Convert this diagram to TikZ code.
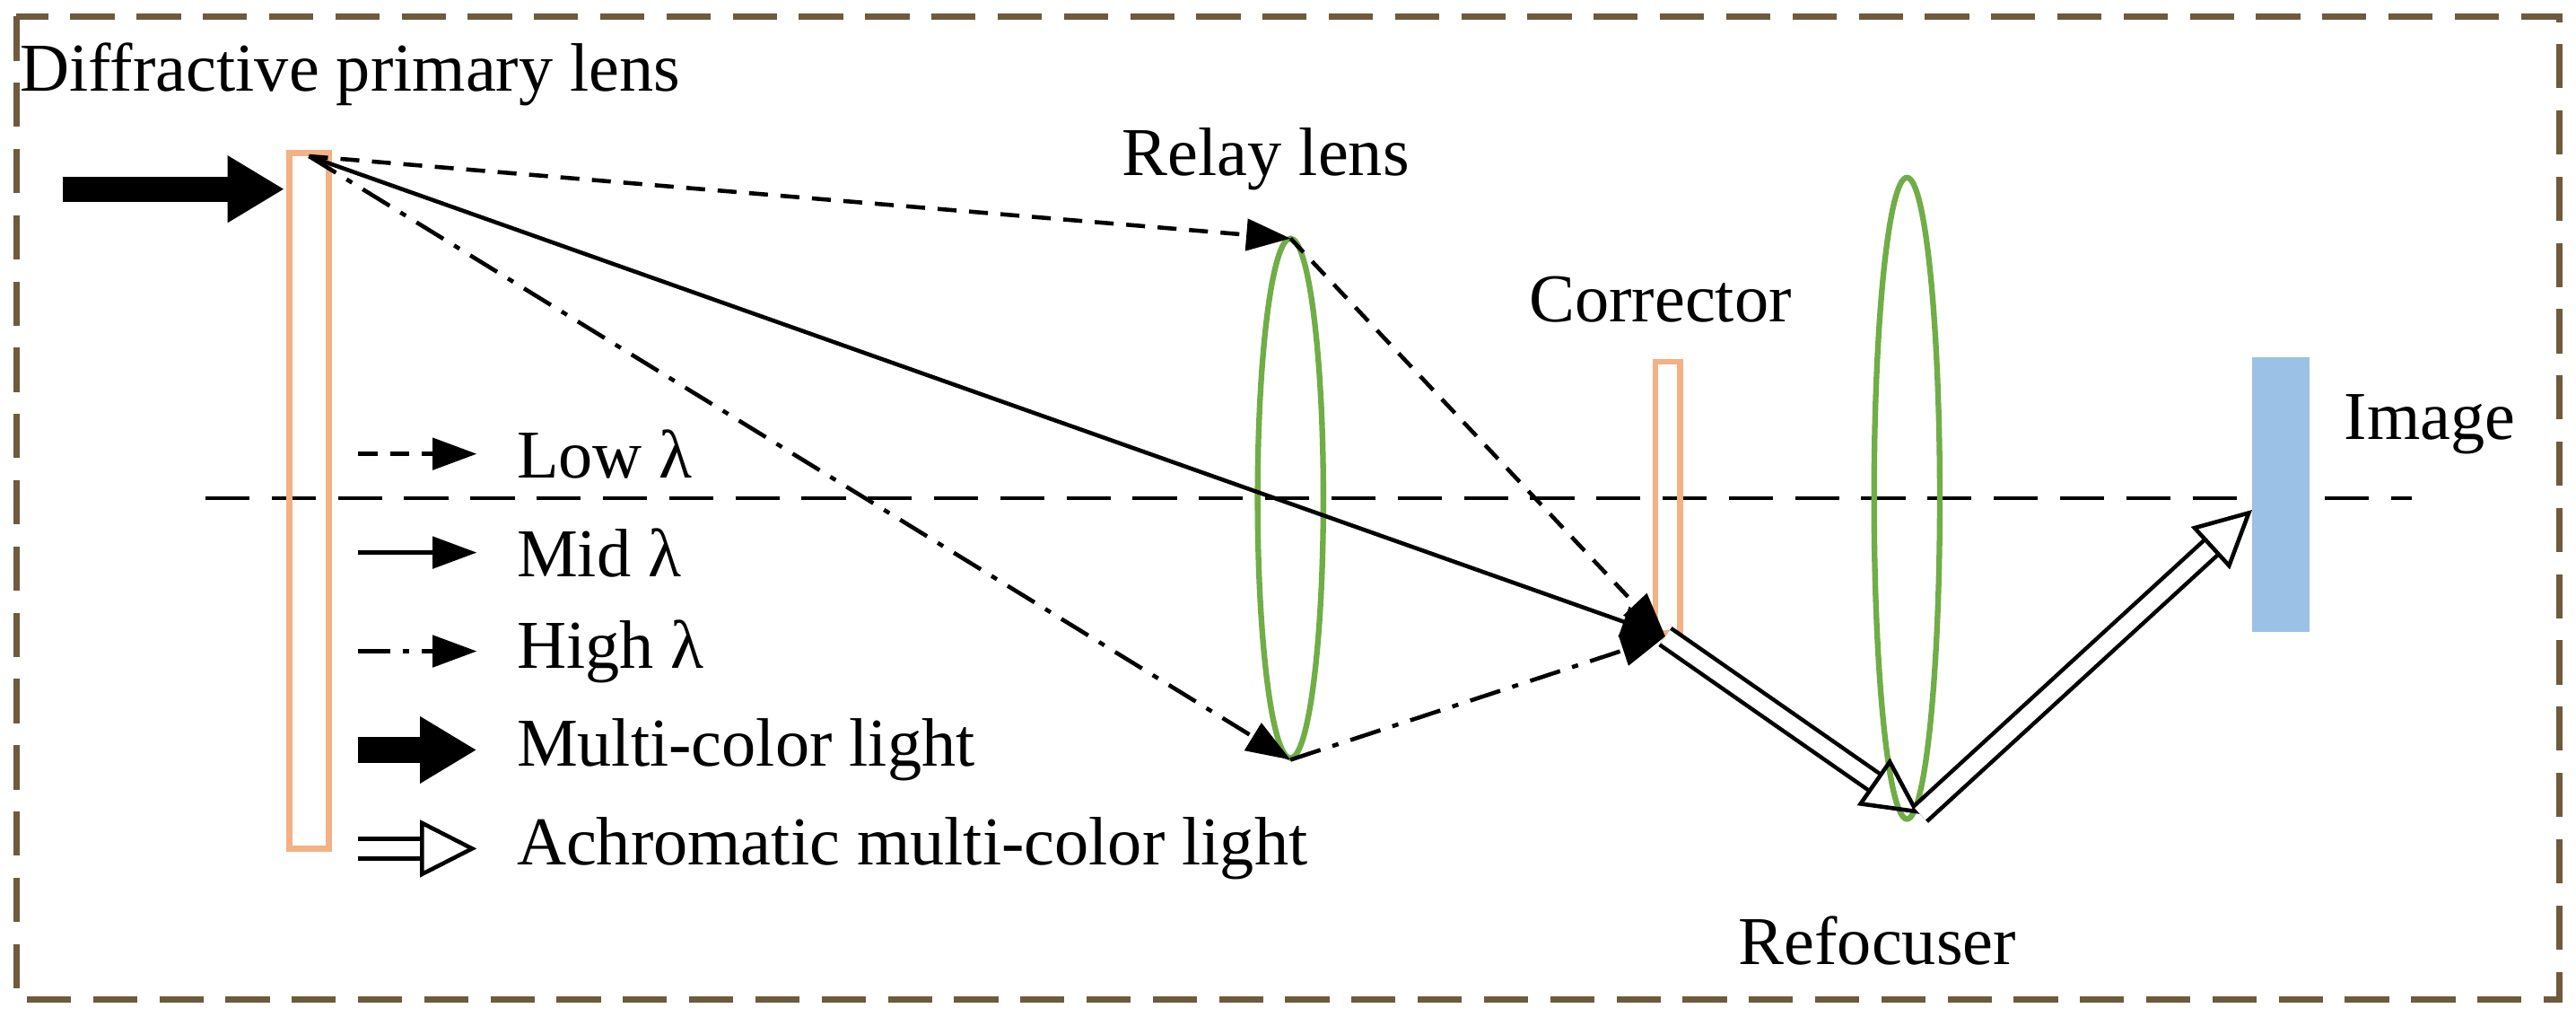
\documentclass[tikz,border=0pt]{standalone}
\usepackage{fontspec}
\setmainfont{Liberation Serif}
\usetikzlibrary{arrows.meta,positioning}
\definecolor{framebrown}{RGB}{110,90,60}
\definecolor{lensorange}{RGB}{244,177,131}
\definecolor{lensgreen}{RGB}{112,173,71}
\definecolor{imageblue}{RGB}{155,194,230}
\tikzset{
  ray/.style={line width=1.3pt,-{Triangle[length=14pt,width=10pt]}},
  dsh/.style={dash pattern=on 6pt off 4pt},
  dshd/.style={dash pattern=on 10pt off 4pt on 2pt off 4pt},
  fat/.style={line width=8pt,-{Triangle[length=18pt,width=20pt]}},
  hollow/.style={double,double distance=5pt,line width=1.3pt,-{Triangle[open,length=18pt,width=18pt,line width=1.3pt]}},
  lbl/.style={font=\fontsize{21.7}{26}\selectfont,inner sep=0pt}
}
\begin{document}
\begin{tikzpicture}[x=0.1832mm,y=-0.1832mm]
    \useasboundingbox (0,0) rectangle (1567,618);
    \draw[framebrown,line width=2pt,dash pattern=on 14pt off 7pt] (10,10) rectangle (1557,608);

    % optical axis
    \draw[line width=1.2pt,dash pattern=on 14pt off 7pt] (125,303) -- (1467,303);

    % lenses
    \draw[lensorange,line width=1.8pt] (176,93) rectangle (200,516);
    \draw[lensgreen,line width=1.8pt] (785,303) ellipse [x radius=20,y radius=158];
    \draw[lensorange,line width=1.8pt] (1007,220) rectangle (1022,385);
    \draw[lensgreen,line width=1.8pt] (1160,303) ellipse [x radius=20,y radius=195];
    \fill[imageblue] (1370,217) rectangle (1405,384);

    \coordinate (src) at (188,95);
    \coordinate (top) at (785,145);
    \coordinate (bot) at (785,462);
    \coordinate (foc) at (1013,387);
    \coordinate (ref) at (1168,495);
    \coordinate (img) at (1370,310);

    \draw[fat] (38,115) -- (173,115);
    \draw[ray,dsh] (src) -- (top);
    \draw[ray,dsh] (top) -- (foc);
    \draw[ray] (src) -- (foc);
    \draw[ray,dshd] (src) -- (bot);
    \draw[ray,dshd] (bot) -- (foc);
    \draw[hollow] (foc) -- (ref);
    \draw[hollow] (ref) -- (img);

    % labels
    \node[lbl,anchor=west] (title) at (12,45) {Diffractive primary lens};
    \node[lbl] (relay) at (770,97) {Relay lens};
    \node[lbl] (corr) at (1010,182) {Corrector};
    \node[lbl] (image) at (1478,258) {Image};
    \node[lbl] (refoc) at (1142,572) {Refocuser};

    % legend
    \node[lbl,anchor=west] (low) at (314,276) {Low λ};
    \node[lbl,anchor=west] (mid) at (314,336) {Mid λ};
    \node[lbl,anchor=west] (high) at (314,396) {High λ};
    \node[lbl,anchor=west] (multi) at (314,456) {Multi-color light};
    \node[lbl,anchor=west] (achro) at (314,516) {Achromatic multi-color light};
    \draw[ray,dsh] (218,276) -- (290,276);
    \draw[ray] (218,336) -- (290,336);
    \draw[ray,dshd] (218,396) -- (290,396);
    \draw[fat] (218,456) -- (290,456);
    \draw[hollow] (218,516) -- (290,516);
\end{tikzpicture}
\end{document}
